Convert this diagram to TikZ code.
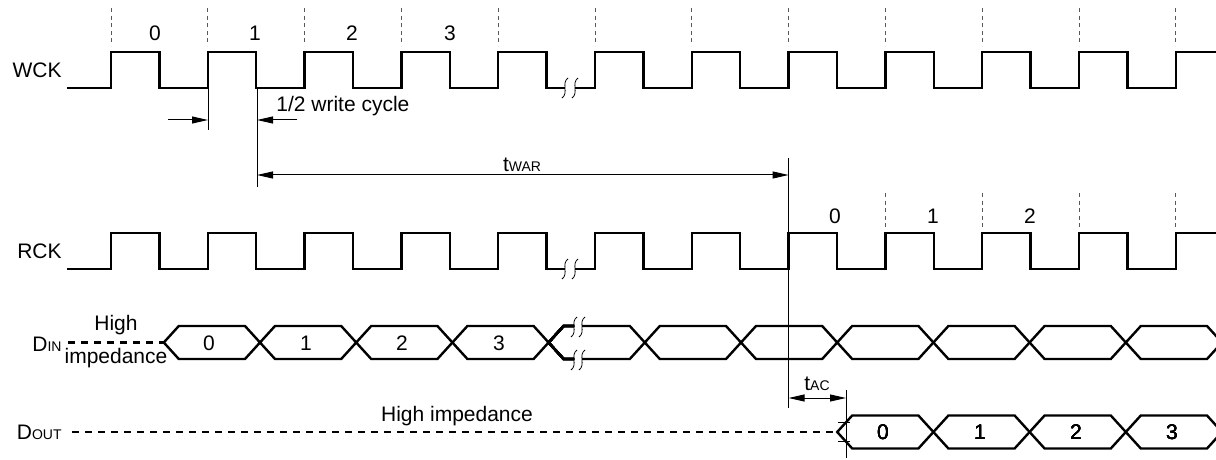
\documentclass[tikz,border=0pt]{standalone}
\usepackage{fontspec}
\setmainfont{Liberation Sans}
\usetikzlibrary{arrows.meta}

\newcommand{\smallsub}[1]{{\fontsize{7}{8}\selectfont #1}}
% one data cell of a bus: left x, right x, middle y
\newcommand{\buscell}[3]{%
\draw[sig] ({#1},{#3}) -- ({#1+15},{#3-16.5}) -- ({#2-15},{#3-16.5}) -- ({#2},{#3})
  -- ({#2-15},{#3+16.5}) -- ({#1+15},{#3+16.5}) -- cycle;}
% break mark at x, y
\newcommand{\brkmark}[2]{%
\draw[thin] ({#1+3},{#2-10}) .. controls ({#1-4},{#2-5}) and ({#1+4},{#2+5}) .. ({#1-3},{#2+10});}

\tikzset{
  sig/.style={line width=1.2pt, line join=miter},
  hiz/.style={line width=1.2pt, dash pattern=on 3.5pt off 3pt},
  guide/.style={line width=0.5pt, gray!70!black, dash pattern=on 2pt off 1.8pt},
  dimline/.style={line width=0.5pt},
  dimarrow/.style={line width=0.5pt, -{Triangle[length=8pt,width=3.5pt]}},
  dimboth/.style={line width=0.5pt, {Triangle[length=8pt,width=3.5pt]}-{Triangle[length=8pt,width=3.5pt]}}
}

\begin{document}
\begin{tikzpicture}[x=0.5pt, y=-0.5pt,
  every node/.style={font=\fontsize{10.5}{12}\selectfont, inner sep=0pt}]
\clip (0,0) rectangle (1216,460);

% clocks
\foreach \y/\lbl in {0/WCK,181/RCK}{
  \node[anchor=east] (\lbl) at (62,70+\y) {\lbl};
  \draw[sig] (67,88+\y) \foreach \k in {0,...,4}{
    -- ({111+96.8*\k},88+\y) -- ++(0,-36) -- ++(48.4,0) -- ++(0,36)} -- (565,88+\y);
  \draw[sig] (575,88+\y) \foreach \k in {5,...,10}{
    -- ({111+96.8*\k},88+\y) -- ++(0,-36) -- ++(48.4,0) -- ++(0,36)}
    -- (1175.8,88+\y) -- ++(0,-36) -- (1216,52+\y);
  \brkmark{565}{88+\y}
  \brkmark{575}{88+\y}
}
\foreach \k in {0,...,11}
  \draw[guide] ({111+96.8*\k},8) -- ({111+96.8*\k},46);
\foreach \k in {8,...,11}
  \draw[guide] ({111+96.8*\k},193) -- ({111+96.8*\k},229);
\foreach \x/\t in {155/0,255/1,352/2,450/3}
  \node (w\t) at (\x,33) {\t};
\foreach \x/\t in {835/0,933/1,1030/2}
  \node (r\t) at (\x,216) {\t};

% 1/2 write cycle
\coordinate (wf0) at (208,88);
\coordinate (wf1) at (257,88);
\coordinate (hc0) at (208,120);
\coordinate (hc1) at (257,120);
\draw[dimline] (wf0) -- ++(0,42);
\draw[dimline] (wf1) -- ++(0,99);
\draw[dimarrow] (168,120) -- (hc0);
\draw[dimarrow] (297,120) -- (hc1);
\node[anchor=west] (half) at (276,106) {1/2 write cycle};

% tWAR
\coordinate (war0) at (257,175);
\coordinate (war1) at (788.6,175);
\draw[dimline] (788.6,158) -- (788.6,408);
\draw[dimboth] (war0) -- (war1);
\node (twar) at (522,165) {t\smallsub{WAR}};

% DIN
\node[anchor=east] (din) at (62,344) {D\smallsub{IN}};
\draw[hiz] (68,342.5) -- (163.8,342.5);
\node (hi1) at (116,325) {High};
\node (hi2) at (116,358) {impedance};
\foreach \k in {0,1,2,3,5,6,7,8,9,10,11}
  \buscell{163.8+96.2*\k}{163.8+96.2*(\k+1)}{342.5}
\draw[sig] (574,326) -- (563.6,326) -- (548.6,342.5) -- (563.6,359) -- (574,359);
\draw[sig] (582,326) -- (629.8,326) -- (644.8,342.5) -- (629.8,359) -- (582,359);
\foreach \x in {574,582}{
  \brkmark{\x}{327}
  \brkmark{\x}{360}
}
\foreach \x/\t in {209/0,306/1,402/2,499/3}
  \node (d\t) at (\x,343) {\t};

% DOUT
\node[anchor=east] (dout) at (62,432) {D\smallsub{OUT}};
\draw[hiz] (72,432) -- (837.2,432);
\node (hi3) at (457,416) {High impedance};
\foreach \k in {7,...,11}
  \buscell{163.8+96.2*\k}{163.8+96.2*(\k+1)}{432}
\foreach \x/\t in {883/0,980/1,1076/2,1172/3}
  \node (q\t) at (\x,432) {\t};

% tAC
\coordinate (ac0) at (788.6,398);
\coordinate (ac1) at (846,398);
\draw[dimline] (846,390) -- (846,458);
\draw[dimline] (838,422) -- (850,422);
\draw[dimline] (838,441) -- (850,441);
\draw[dimboth] (ac0) -- (ac1);
\node (tac) at (817,384) {t\smallsub{AC}};
\end{tikzpicture}
\end{document}
